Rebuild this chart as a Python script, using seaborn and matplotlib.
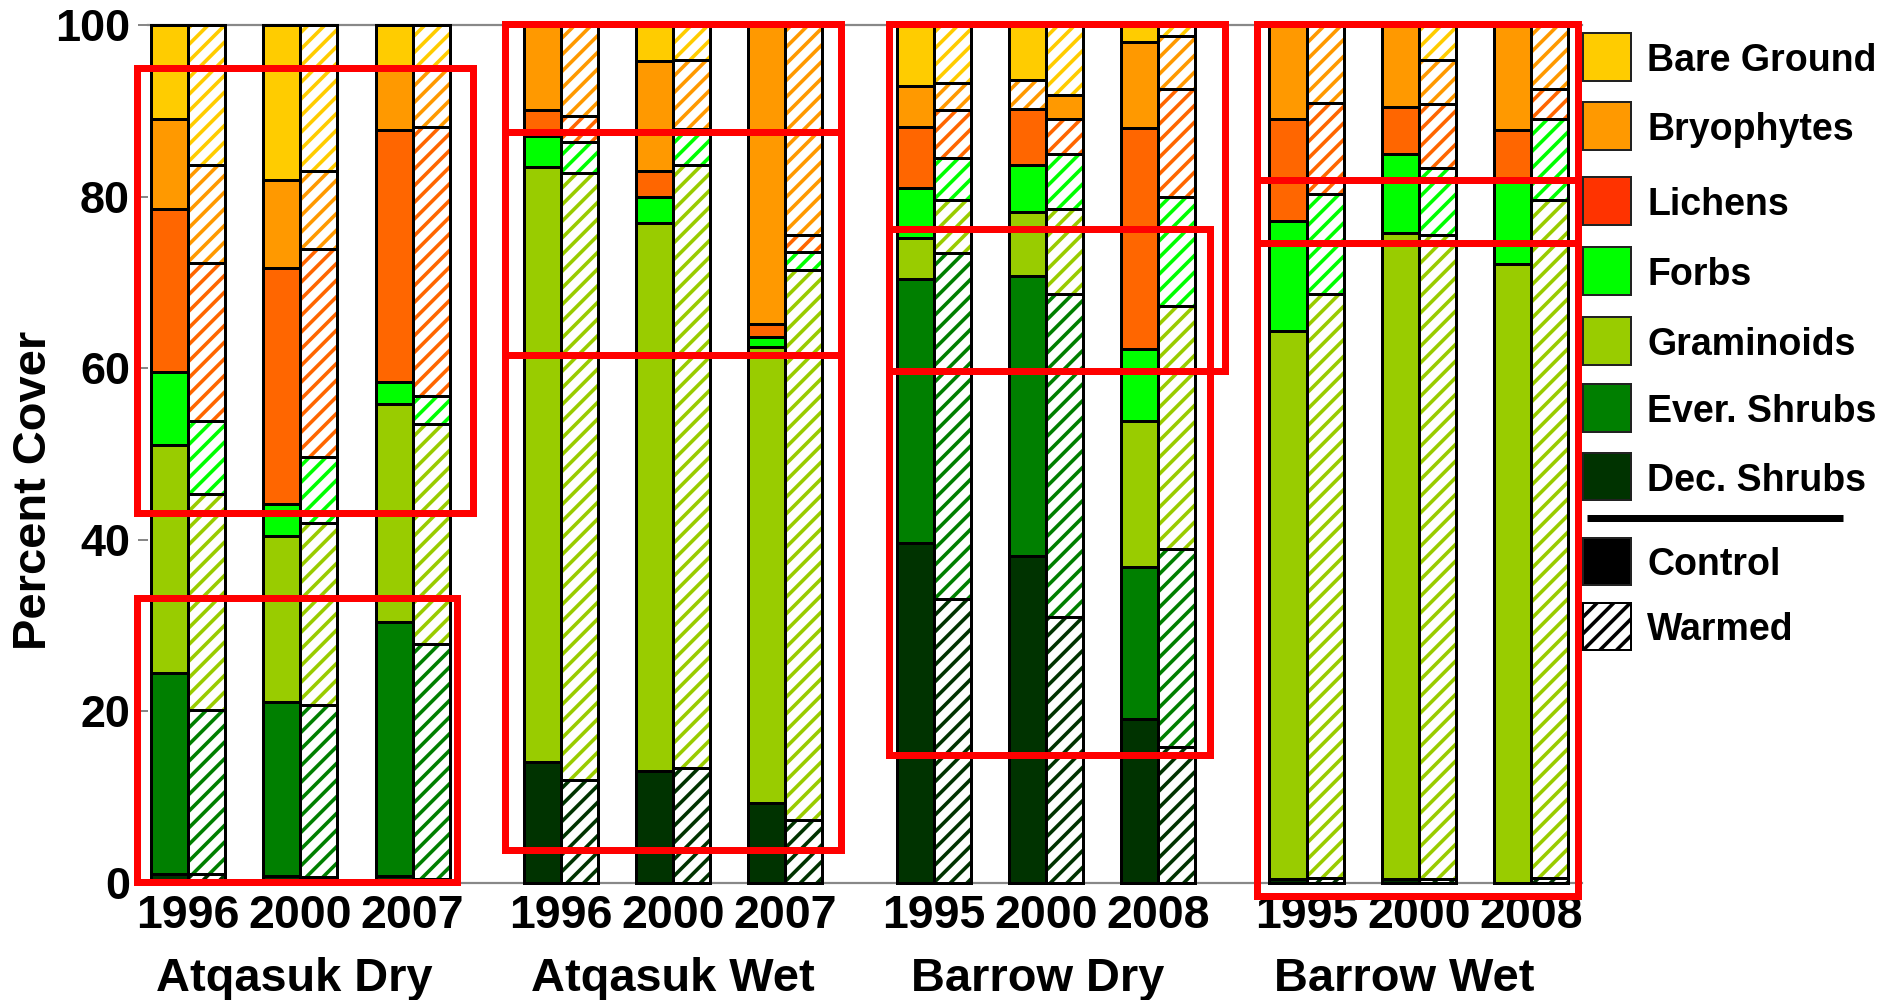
import numpy as np
import pandas as pd
import matplotlib
matplotlib.use("Agg")
import matplotlib.pyplot as plt
import matplotlib.transforms as mtransforms
from matplotlib.patches import Rectangle
from matplotlib.lines import Line2D
import seaborn as sns

# ---------------- data ----------------
sites = ["Atqasuk Dry", "Atqasuk Wet", "Barrow Dry", "Barrow Wet"]
years = ["1996", "2000", "2007",
         "1996", "2000", "2007",
         "1995", "2000", "2008",
         "1995", "2000", "2008"]
categories = ["Dec. Shrubs", "Ever. Shrubs", "Graminoids", "Forbs",
              "Lichens", "Bryophytes", "Bare Ground"]

# percent cover of each group, one value per site-year (order as `years`)
control_dec = [1.0, 0.8, 0.8, 14.1, 13.0, 9.3, 39.6, 38.1, 19.1, 0.5, 0.5, 0.0]
control_ever = [23.5, 20.3, 29.6, 0.0, 0.0, 0.0, 30.8, 32.6, 17.7, 0.0, 0.0, 0.0]
control_gram = [26.6, 19.3, 25.4, 69.3, 63.9, 53.2, 4.8, 7.5, 17.0, 63.8, 75.3, 72.1]
control_forbs = [8.5, 3.8, 2.6, 3.7, 3.0, 1.1, 5.8, 5.5, 8.4, 12.9, 9.2, 9.8]
control_lichens = [19.0, 27.5, 29.4, 3.0, 3.1, 1.5, 7.1, 6.5, 25.8, 11.9, 5.5, 5.9]
control_bryo = [10.5, 10.2, 7.0, 9.9, 12.8, 34.9, 4.8, 3.4, 10.0, 10.9, 9.5, 12.2]
control_bare = [10.9, 18.1, 5.2, 0.0, 4.2, 0.0, 7.1, 6.4, 2.0, 0.0, 0.0, 0.0]

warmed_dec = [1.0, 0.7, 0.5, 12.0, 13.4, 7.3, 33.1, 31.0, 15.8, 0.6, 0.5, 0.6]
warmed_ever = [19.2, 20.1, 27.4, 0.0, 0.0, 0.0, 40.3, 37.7, 23.1, 0.0, 0.0, 0.0]
warmed_gram = [25.1, 21.1, 25.6, 70.7, 70.3, 64.2, 6.2, 9.8, 28.4, 68.1, 75.0, 79.0]
warmed_forbs = [8.5, 7.8, 3.3, 3.7, 3.9, 2.0, 4.9, 6.5, 12.6, 11.6, 7.8, 9.5]
warmed_lichens = [18.5, 24.2, 31.3, 3.0, 0.3, 2.0, 5.6, 4.1, 12.6, 10.6, 7.5, 3.4]
warmed_bryo = [11.4, 9.1, 6.7, 10.6, 8.0, 24.5, 3.1, 2.7, 6.2, 9.1, 5.1, 7.5]
warmed_bare = [16.3, 17.0, 5.2, 0.0, 4.1, 0.0, 6.8, 8.2, 1.3, 0.0, 4.1, 0.0]

# in the original, the bryophyte fills of Barrow Dry 2000 are drawn with swapped styles
bryo_style_swapped = [False, False, False, False, False, False,
                      False, True, False, False, False, False]

bar_colors = ["#003300", "#007F00", "#99CC00", "#00FF00",
              "#FF6600", "#FF9900", "#FFCC00"]
legend_colors = ["#003300", "#007F00", "#99CC00", "#00FF00",
                 "#FF3300", "#FF9900", "#FFCC00"]

control = [control_dec, control_ever, control_gram, control_forbs,
           control_lichens, control_bryo, control_bare]
warmed = [warmed_dec, warmed_ever, warmed_gram, warmed_forbs,
          warmed_lichens, warmed_bryo, warmed_bare]

# ---------------- figure setup ----------------
DPI = 100
FW, FH = 1894, 1000
PX = 72.0 / DPI  # points per pixel

sns.set_theme(style="white")
plt.rcParams["font.family"] = ["Liberation Sans", "DejaVu Sans"]
plt.rcParams["font.weight"] = "bold"
plt.rcParams["hatch.linewidth"] = 3.6 * PX

fig = plt.figure(figsize=(FW / DPI, FH / DPI), dpi=DPI)
fig.patch.set_facecolor("white")
ax = fig.add_axes([148 / FW, 1 - 883 / FH, (1582 - 148) / FW, (883 - 25) / FH])
ax.set_facecolor("white")

SITE_STEP = 3.32
centers = np.array([s * SITE_STEP + j for s in range(4) for j in range(3)])
BAR_W = 0.33
EDGE_LW = 3.0 * PX
HATCH = "//"


def native_unit(xs):
    u = np.unique(np.round(np.asarray(xs, float), 6))
    return float(np.min(np.diff(u))) if len(u) > 1 else 1.0


def draw_layer(xs, hs, color, hatched):
    if len(xs) == 0:
        return
    df = pd.DataFrame({"x": xs, "y": hs})
    w = BAR_W / native_unit(xs)
    common = dict(data=df, x="x", y="y", native_scale=True, orient="x",
                  errorbar=None, width=w, ax=ax, saturation=1, clip_on=False)
    if hatched:
        sns.barplot(**common, color="white", edgecolor=color, hatch=HATCH,
                    linewidth=0)
        sns.barplot(**common, color="black", fill=False, edgecolor="black",
                    linewidth=EDGE_LW)
    else:
        sns.barplot(**common, color=color, edgecolor="black", linewidth=EDGE_LW)


cum_c = np.cumsum(np.array(control), axis=0)
cum_w = np.cumsum(np.array(warmed), axis=0)
x_c = centers - BAR_W / 2
x_w = centers + BAR_W / 2

for ci in range(len(categories) - 1, -1, -1):
    col = bar_colors[ci]
    swap = np.array(bryo_style_swapped) if categories[ci] == "Bryophytes" \
        else np.zeros(12, bool)
    draw_layer(x_c[~swap], cum_c[ci][~swap], col, hatched=False)
    draw_layer(x_c[swap], cum_c[ci][swap], col, hatched=True)
    draw_layer(x_w[~swap], cum_w[ci][~swap], col, hatched=True)
    draw_layer(x_w[swap], cum_w[ci][swap], col, hatched=False)

# ---------------- axes styling ----------------
ax.set_xlim(-0.356, 12.413)
ax.set_ylim(0, 100)
ax.set_xlabel("")
ax.set_ylabel("")
for side in ["left", "right"]:
    ax.spines[side].set_visible(False)
for side in ["top", "bottom"]:
    ax.spines[side].set_color("#888888")
    ax.spines[side].set_linewidth(2.2 * PX)
    ax.spines[side].set_zorder(0.5)

ax.set_yticks([0, 20, 40, 60, 80, 100])
ax.set_yticklabels(["0", "20", "40", "60", "80", "100"])
ax.tick_params(axis="y", left=True, direction="out", length=10 * PX,
               width=2 * PX, color="#888888", pad=8 * PX,
               labelsize=45 * PX, labelcolor="black")
ax.set_xticks(centers)
ax.set_xticklabels(years)
ax.tick_params(axis="x", bottom=False, length=0, pad=11 * PX,
               labelsize=46.5 * PX, labelcolor="black")
for t in ax.get_xticklabels() + ax.get_yticklabels():
    t.set_fontweight("bold")

trans = mtransforms.blended_transform_factory(ax.transData, fig.transFigure)
site_x = [0.95, 4.32, 7.57, 10.83]
for sx, name in zip(site_x, sites):
    ax.text(sx, 1 - 991 / FH, name, transform=trans, ha="center",
            va="baseline", fontsize=47 * PX, fontweight="bold", color="black")

fig.text(34 / FW, 1 - 490 / FH, "Percent Cover", rotation=90, ha="center",
         va="center", fontsize=47 * PX, fontweight="bold", color="black")

# ---------------- legend (manual) ----------------
leg_rows = [("Bare Ground", legend_colors[6], 57),
            ("Bryophytes", legend_colors[5], 126),
            ("Lichens", legend_colors[4], 201),
            ("Forbs", legend_colors[3], 271),
            ("Graminoids", legend_colors[2], 341),
            ("Ever. Shrubs", legend_colors[1], 408),
            ("Dec. Shrubs", legend_colors[0], 477)]
LFS = 37.5 * PX
PW, PH = 48, 47
for label, col, yc in leg_rows:
    fig.add_artist(Rectangle((1583 / FW, 1 - (yc + PH / 2) / FH), PW / FW, PH / FH,
                             transform=fig.transFigure, facecolor=col,
                             edgecolor="#222222", linewidth=2 * PX))
    fig.text(1647 / FW, 1 - yc / FH, label, ha="left", va="center_baseline",
             fontsize=LFS, fontweight="bold", color="black")
fig.add_artist(Line2D([1587 / FW, 1843 / FW], [1 - 518 / FH, 1 - 518 / FH],
                      transform=fig.transFigure, color="black",
                      linewidth=7 * PX, solid_capstyle="butt"))
fig.add_artist(Rectangle((1583 / FW, 1 - (561 + PH / 2) / FH), PW / FW, PH / FH,
                         transform=fig.transFigure, facecolor="black",
                         edgecolor="#222222", linewidth=2 * PX))
fig.text(1647 / FW, 1 - 561 / FH, "Control", ha="left", va="center_baseline",
         fontsize=LFS, fontweight="bold", color="black")
fig.add_artist(Rectangle((1583 / FW, 1 - (626 + PH / 2) / FH), PW / FW, PH / FH,
                         transform=fig.transFigure, facecolor="white",
                         edgecolor="black", hatch="//", linewidth=2 * PX))
fig.text(1647 / FW, 1 - 626 / FH, "Warmed", ha="left", va="center_baseline",
         fontsize=LFS, fontweight="bold", color="black")

# ---------------- red highlight boxes ----------------
RED_LW = 7 * PX


def red_box(x0, y0, x1, y1):
    fig.add_artist(Rectangle((x0 / FW, 1 - y1 / FH), (x1 - x0) / FW, (y1 - y0) / FH,
                             transform=fig.transFigure, fill=False,
                             edgecolor="#FF0000", linewidth=RED_LW,
                             joinstyle="miter", zorder=20))


def red_hline(x0, x1, y):
    fig.add_artist(Line2D([x0 / FW, x1 / FW], [1 - y / FH, 1 - y / FH],
                          transform=fig.transFigure, color="#FF0000",
                          linewidth=RED_LW, solid_capstyle="butt", zorder=20))


red_box(137, 68, 473, 513)
red_box(137, 598, 457, 882)
red_box(505, 24, 841, 850)
red_hline(505, 841, 132)
red_hline(505, 841, 355)
red_box(889, 24, 1225, 371)
red_box(889, 229, 1210, 755)
red_box(1257, 24, 1578, 896)
red_hline(1257, 1578, 180)
red_hline(1257, 1578, 243)

fig.savefig("out.png", dpi=DPI, facecolor="white")
